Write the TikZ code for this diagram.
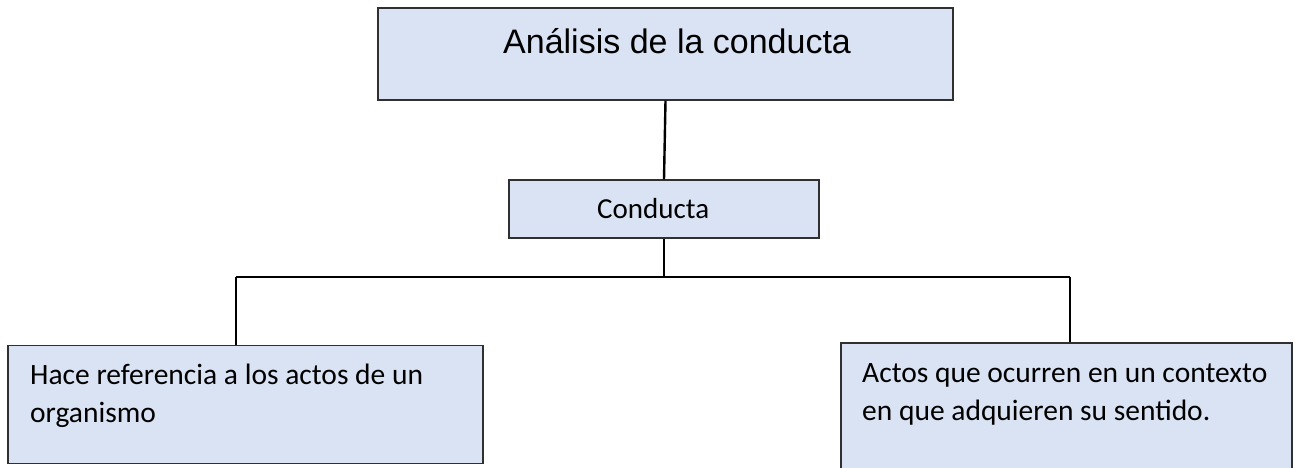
\documentclass[tikz,border=0pt]{standalone}
\usepackage{fontspec}
\setmainfont{Carlito}
\newfontfamily\arialf{Liberation Sans}
\definecolor{boxfill}{HTML}{DAE3F3}
\definecolor{boxline}{HTML}{303030}
\tikzset{
  box/.style={draw=boxline, line width=1.3pt, fill=boxfill, rectangle, inner sep=0pt},
  conn/.style={draw=black, line width=2.4pt},
  lbl/.style={anchor=base west, inner sep=0pt, font=\fontsize{29.5}{38}\selectfont},
}
\begin{document}
\begin{tikzpicture}[x=1pt,y=1pt]
\useasboundingbox (0,0) rectangle (1296,-468);
\clip (0,0) rectangle (1296,-468);
\node[box, minimum width=575pt, minimum height=92pt] (top) at (665.5,-54) {};
\node[anchor=base west, inner sep=0pt, font=\arialf\fontsize{34}{40}\selectfont] (title) at (503,-54) {Análisis de la conducta};
\node[box, minimum width=310pt, minimum height=58pt] (cond) at (664,-209) {};
\node[lbl, font=\fontsize{29}{38}\selectfont] (condt) at (597,-218) {Conducta};
\node[box, minimum width=475pt, minimum height=118pt] (lbox) at (245.5,-404.5) {};
\node[lbl] (l1) at (30,-384) {Hace referencia a los actos de un};
\node[lbl] (l2) at (30,-422) {organismo};
\node[box, minimum width=451pt, minimum height=140pt] (rbox) at (1066.5,-413) {};
\node[lbl] (r1) at (862,-382) {Actos que ocurren en un contexto};
\node[lbl] (r2) at (862,-420) {en que adquieren su sentido.};
\coordinate (bl) at (236,-277);
\coordinate (br) at (1070,-277);
\draw[conn] (top.south) -- (cond.north);
\draw[conn] (cond.south) -- (cond.south |- bl);
\draw[conn] (bl) -- (br);
\draw[conn] (bl) -- (bl |- lbox.north);
\draw[conn] (br) -- (br |- rbox.north);
\end{tikzpicture}
\end{document}
